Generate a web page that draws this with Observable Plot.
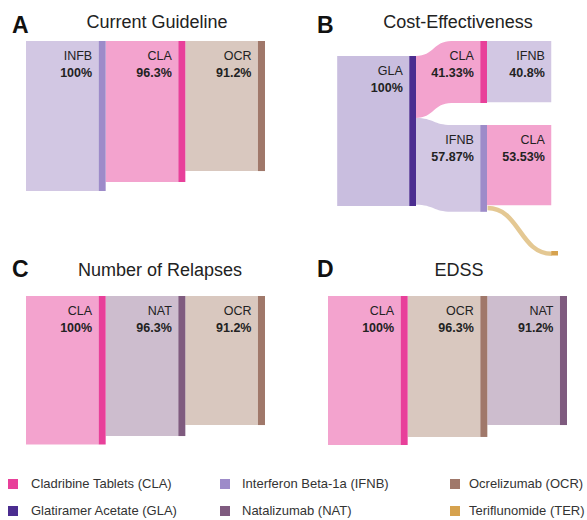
<!DOCTYPE html>
<html><head><meta charset="utf-8">
<script src="https://cdn.jsdelivr.net/npm/d3@7"></script>
<script src="https://cdn.jsdelivr.net/npm/@observablehq/plot@0.6"></script>
<style>
body{margin:0;background:#fff;font-family:"Liberation Sans",Arial,Helvetica,sans-serif;}
#fig{position:relative;width:587px;height:520px;overflow:hidden;background:#fff;}
.cell{position:absolute;}
.letter{position:absolute;font-weight:bold;font-size:23px;line-height:23px;color:#111;}
.title{position:absolute;font-size:18px;line-height:18px;color:#222;transform:translateX(-50%);white-space:nowrap;}
.leg{position:absolute;font-size:13px;line-height:14px;height:14px;color:#333;display:flex;align-items:center;white-space:nowrap;}
.sw{width:10px;height:10px;flex:none;}
</style></head><body><div id="fig"></div>
<script>
// ---------- data ----------
const drugKeys   = ["CLA", "GLA", "IFNB", "NAT", "OCR", "TER"];
const drugNames  = ["Cladribine Tablets (CLA)", "Glatiramer Acetate (GLA)", "Interferon Beta-1a (IFNB)",
                    "Natalizumab (NAT)", "Ocrelizumab (OCR)", "Teriflunomide (TER)"];
const barColors  = ["#E8409A", "#4B2D90", "#9D8BC9", "#7F5B7F", "#A0786A", "#D6A24E"];
const bandColors = ["#F3A3CE", "#C9BEDF", "#D2C7E3", "#CDBDCE", "#D9C8BF", "#E4C893"];

const panelTitles  = ["Current Guideline", "Cost-Effectiveness", "Number of Relapses", "EDSS"];
const panelLetters = ["A", "B", "C", "D"];

// Panel A
const aDrug  = ["IFNB", "CLA", "OCR"];
const aName  = ["INFB", "CLA", "OCR"];
const aPct   = ["100%", "96.3%", "91.2%"];
const aValue = [100, 94, 86.7];

// Panel B
const bDrug  = ["GLA", "CLA", "IFNB", "IFNB", "CLA", "TER"];
const bLevel = [1, 2, 2, 3, 3, 3];
const bName  = ["GLA", "CLA", "IFNB", "IFNB", "CLA", ""];
const bPct   = ["100%", "41.33%", "57.87%", "40.8%", "53.53%", ""];
const bValue = [100, 41.33, 57.87, 40.8, 53.53, 3];
const bLinks = [[0, 1], [0, 2], [1, 3], [2, 4], [2, 5]];

// Panel C
const cDrug  = ["CLA", "NAT", "OCR"];
const cName  = ["CLA", "NAT", "OCR"];
const cPct   = ["100%", "96.3%", "91.2%"];
const cValue = [100, 94.3, 86.9];

// Panel D
const dDrug  = ["CLA", "OCR", "NAT"];
const dName  = ["CLA", "OCR", "NAT"];
const dPct   = ["100%", "96.3%", "91.2%"];
const dValue = [100, 94.6, 86.6];

// ---------- layout (not data) ----------
const bTops = {0: 10, 1: 0, 2: 56, 5: 140};   // node offsets in panel B
const bUnbarred = new Set([3, 4]);
const bStroked = new Set([4]);

const colorOf = (k) => barColors[drugKeys.indexOf(k)];
const bandOf = (k) => bandColors[drugKeys.indexOf(k)];

function chain(drug, name, pct, value) {
  const nodes = drug.map((d, i) => ({drug: d, name: name[i], pct: pct[i], value: value[i], level: i + 1, top: 0}));
  const links = drug.slice(1).map((_, i) => [i, i + 1]);
  return {nodes, links};
}

function sankeyPanel({nodes, links, cell, xDomain, xRange, yRange, bw, rootExtra = 0, unbarred = new Set(), stroked = new Set()}) {
  const pxPerUnit = (yRange[1] - yRange[0]) / 100;
  const outOff = nodes.map(() => 0);
  const geo = links.map(([s, t], i) => {
    const v = nodes[t].value;
    const sy = nodes[s].top + outOff[s];
    outOff[s] += v;
    if (nodes[t].top == null) nodes[t].top = sy;
    return {s, t, v, sy, ty: nodes[t].top, L: nodes[t].level, i};
  });
  const marks = [];
  nodes.forEach((n, i) => {
    if (!links.some(l => l[1] === i)) {
      marks.push(Plot.rect([n], {x1: d => d.level - 1 - rootExtra, x2: d => d.level - bw, y1: d => d.top, y2: d => d.top + d.value, fill: bandOf(n.drug)}));
    }
  });
  geo.forEach(g => {
    const tgt = nodes[g.t];
    const x0 = g.L - 1, x2 = g.L - bw;
    if (stroked.has(g.i)) {
      marks.push(Plot.link([g], {x1: () => x0, y1: d => d.sy + d.v / 2, x2: () => x2, y2: d => d.ty + d.v / 2,
        stroke: bandOf(tgt.drug), strokeWidth: g.v * pxPerUnit, curve: "bump-x"}));
    } else {
      const pts = g.sy === g.ty
        ? [{x: x0, y1: g.sy, y2: g.sy + g.v}, {x: x2, y1: g.ty, y2: g.ty + g.v}]
        : [{x: x0, y1: g.sy, y2: g.sy + g.v}, {x: x0 + 0.55 * (1 - bw), y1: g.ty, y2: g.ty + g.v}, {x: x2, y1: g.ty, y2: g.ty + g.v}];
      marks.push(Plot.areaY(pts, {x: "x", y1: "y1", y2: "y2", fill: bandOf(tgt.drug), curve: "bump-x"}));
    }
  });
  const barred = nodes.filter((n, i) => !unbarred.has(i));
  marks.push(Plot.rect(barred, {x1: d => d.level - bw, x2: d => d.level, y1: d => d.top, y2: d => d.top + d.value,
    fill: d => colorOf(d.drug)}));
  const labeled = nodes.filter(n => n.name);
  marks.push(Plot.text(labeled, {x: d => d.level - bw, y: d => d.top, text: "name", dx: -7, dy: 14,
    textAnchor: "end", lineAnchor: "middle", fontSize: 12.5, fill: "#222"}));
  marks.push(Plot.text(labeled, {x: d => d.level - bw, y: d => d.top, text: "pct", dx: -7, dy: 31,
    textAnchor: "end", lineAnchor: "middle", fontSize: 12.5, fontWeight: "bold", fill: "#222"}));

  const svg = Plot.plot({
    width: cell.w, height: cell.h, margin: 0,
    x: {axis: null, domain: xDomain, range: xRange.map(v => v - cell.x)},
    y: {axis: null, domain: [0, 100], range: yRange.map(v => v - cell.y)},
    color: {type: "identity"},
    style: {background: "transparent", overflow: "visible", fontFamily: "'Liberation Sans', Arial, sans-serif"},
    marks
  });
  svg.classList.add("cell");
  svg.style.left = cell.x + "px";
  svg.style.top = cell.y + "px";
  return svg;
}

const fig = document.getElementById("fig");

const headerPos = [
  {lx: 12, ly: 13.5, tx: 157, ty: 12.8},
  {lx: 317, ly: 13.5, tx: 458, ty: 12.8},
  {lx: 12, ly: 257.5, tx: 160, ty: 260.8},
  {lx: 317, ly: 257.5, tx: 459, ty: 260.8}
];
panelLetters.forEach((L, i) => {
  const p = headerPos[i];
  const a = document.createElement("div"); a.className = "letter"; a.textContent = L;
  a.style.left = p.lx + "px"; a.style.top = p.ly + "px"; fig.appendChild(a);
  const t = document.createElement("div"); t.className = "title"; t.textContent = panelTitles[i];
  t.style.left = p.tx + "px"; t.style.top = p.ty + "px"; fig.appendChild(t);
});

{
  const {nodes, links} = chain(aDrug, aName, aPct, aValue);
  fig.appendChild(sankeyPanel({nodes, links, cell: {x: 0, y: 36, w: 293, h: 224},
    xDomain: [0, 3], xRange: [26, 265], yRange: [41, 191], bw: 0.088}));
}
{
  const nodes = bDrug.map((d, i) => ({drug: d, name: bName[i], pct: bPct[i], value: bValue[i], level: bLevel[i],
    top: bTops[i] != null ? bTops[i] : null}));
  fig.appendChild(sankeyPanel({nodes, links: bLinks, cell: {x: 293, y: 36, w: 294, h: 224},
    xDomain: [1, 3], xRange: [416, 558], yRange: [41, 191], bw: 0.095, rootExtra: 0.11,
    unbarred: bUnbarred, stroked: bStroked}));
}
{
  const {nodes, links} = chain(cDrug, cName, cPct, cValue);
  fig.appendChild(sankeyPanel({nodes, links, cell: {x: 0, y: 285, w: 293, h: 175},
    xDomain: [0, 3], xRange: [26, 265], yRange: [296, 444.5], bw: 0.088}));
}
{
  const {nodes, links} = chain(dDrug, dName, dPct, dValue);
  fig.appendChild(sankeyPanel({nodes, links, cell: {x: 293, y: 285, w: 294, h: 175},
    xDomain: [0, 3], xRange: [328, 567], yRange: [296, 445], bw: 0.088}));
}

const legCols = [{sx: 8, tx: 31}, {sx: 220, tx: 242}, {sx: 450, tx: 469}];
const legRows = [477, 504];
drugKeys.forEach((k, i) => {
  const c = legCols[Math.floor(i / 2)], r = legRows[i % 2];
  const sw = document.createElement("div"); sw.className = "sw";
  sw.style.position = "absolute"; sw.style.left = c.sx + "px"; sw.style.top = (r + 2) + "px";
  sw.style.background = barColors[i]; fig.appendChild(sw);
  const t = document.createElement("div"); t.className = "leg"; t.textContent = drugNames[i];
  t.style.left = c.tx + "px"; t.style.top = r + "px"; fig.appendChild(t);
});
</script></body></html>
